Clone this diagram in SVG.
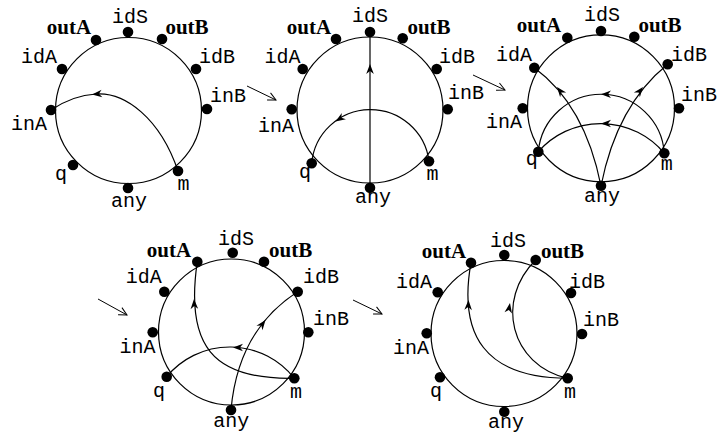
<svg xmlns="http://www.w3.org/2000/svg" width="720" height="439" viewBox="0 0 720 439">
<style>
.c{fill:none;stroke:#000;stroke-width:1.2}
.e{fill:none;stroke:#000;stroke-width:1.2}
.s{fill:none;stroke:#000;stroke-width:1}
.d{fill:#000}
.t{font-family:"Liberation Mono",monospace;font-size:20px;text-anchor:middle;fill:#000}
.b{font-family:"Liberation Serif",serif;font-size:21px;font-weight:bold;text-anchor:middle;fill:#000}
</style>
<defs>
<path id="ah" d="M0,0 L-10,-3.8 L-7,0 L-10,3.8 Z" fill="#000"/>
<marker id="open" markerWidth="12" markerHeight="12" refX="9" refY="5" orient="auto" markerUnits="userSpaceOnUse"><path d="M1,1 L9,5 L1,9" fill="none" stroke="#000" stroke-width="1"/></marker>
</defs>
<rect width="720" height="439" fill="#fff"/>

<!-- state 1 -->
<g id="state1">
<circle class="c" cx="128.5" cy="110.5" r="73"/>
<g id="s1-outA"><circle class="d" cx="96" cy="40" r="5.3"/><text class="b" x="69" y="34">outA</text></g>
<g id="s1-idS"><circle class="d" cx="128" cy="32" r="5.3"/><text class="t" x="130" y="23">idS</text></g>
<g id="s1-outB"><circle class="d" cx="162" cy="39" r="5.3"/><text class="b" x="187" y="34">outB</text></g>
<g id="s1-idA"><circle class="d" cx="62" cy="69" r="5.3"/><text class="t" x="39" y="63">idA</text></g>
<g id="s1-idB"><circle class="d" cx="196" cy="69" r="5.3"/><text class="t" x="217" y="63">idB</text></g>
<g id="s1-inA"><circle class="d" cx="51" cy="110" r="5.3"/><text class="t" x="29" y="130">inA</text></g>
<g id="s1-inB"><circle class="d" cx="207" cy="109" r="5.3"/><text class="t" x="228" y="102">inB</text></g>
<g id="s1-q"><circle class="d" cx="73" cy="165" r="5.3"/><text class="t" x="61" y="180">q</text></g>
<g id="s1-m"><circle class="d" cx="178" cy="171" r="5.3"/><text class="t" x="183.5" y="190">m</text></g>
<g id="s1-any"><circle class="d" cx="128" cy="188" r="5.3"/><text class="t" x="129" y="207">any</text></g>
</g>

<!-- state 2 -->
<g id="state2">
<circle class="c" cx="370" cy="110" r="73"/>
<g id="s2-outA"><circle class="d" cx="336" cy="39" r="5.3"/><text class="b" x="309" y="34">outA</text></g>
<g id="s2-idS"><circle class="d" cx="370" cy="32" r="5.3"/><text class="t" x="370" y="21.7">idS</text></g>
<g id="s2-outB"><circle class="d" cx="402.7" cy="38.3" r="5.3"/><text class="b" x="429" y="34">outB</text></g>
<g id="s2-idA"><circle class="d" cx="302.7" cy="69" r="5.3"/><text class="t" x="282.5" y="63">idA</text></g>
<g id="s2-idB"><circle class="d" cx="436.7" cy="69" r="5.3"/><text class="t" x="457" y="63">idB</text></g>
<g id="s2-inA"><circle class="d" cx="291.7" cy="109.3" r="5.3"/><text class="t" x="276" y="131.7">inA</text></g>
<g id="s2-inB"><circle class="d" cx="447.7" cy="109.3" r="5.3"/><text class="t" x="466" y="99.3">inB</text></g>
<g id="s2-q"><circle class="d" cx="311.7" cy="163.3" r="5.3"/><text class="t" x="305" y="178">q</text></g>
<g id="s2-m"><circle class="d" cx="429" cy="161.3" r="5.3"/><text class="t" x="432.5" y="180">m</text></g>
<g id="s2-any"><circle class="d" cx="370" cy="187.7" r="5.3"/><text class="t" x="373" y="203">any</text></g>
</g>

<!-- state 3 -->
<g id="state3">
<circle class="c" cx="601" cy="108.3" r="73.5"/>
<g id="s3-outA"><circle class="d" cx="567.3" cy="37.7" r="5.3"/><text class="b" x="539" y="32.3">outA</text></g>
<g id="s3-idS"><circle class="d" cx="601" cy="31" r="5.3"/><text class="t" x="602" y="21">idS</text></g>
<g id="s3-outB"><circle class="d" cx="634.3" cy="36.7" r="5.3"/><text class="b" x="660" y="32.3">outB</text></g>
<g id="s3-idA"><circle class="d" cx="534.3" cy="67.7" r="5.3"/><text class="t" x="514" y="61">idA</text></g>
<g id="s3-idB"><circle class="d" cx="667.7" cy="64.3" r="5.3"/><text class="t" x="689" y="61">idB</text></g>
<g id="s3-inA"><circle class="d" cx="522.7" cy="108.3" r="5.3"/><text class="t" x="504" y="128.3">inA</text></g>
<g id="s3-inB"><circle class="d" cx="679" cy="108.3" r="5.3"/><text class="t" x="699" y="101">inB</text></g>
<g id="s3-q"><circle class="d" cx="538.3" cy="151.7" r="5.3"/><text class="t" x="531.7" y="165">q</text></g>
<g id="s3-m"><circle class="d" cx="664.3" cy="153.3" r="5.3"/><text class="t" x="666.7" y="170">m</text></g>
<g id="s3-any"><circle class="d" cx="601" cy="185.7" r="5.3"/><text class="t" x="602" y="201.7">any</text></g>
</g>

<!-- state 4 -->
<g id="state4">
<circle class="c" cx="231.5" cy="332" r="73"/>
<g id="s4-outA"><circle class="d" cx="197.3" cy="261.7" r="5.3"/><text class="b" x="169" y="256.7">outA</text></g>
<g id="s4-idS"><circle class="d" cx="232.7" cy="252.7" r="5.3"/><text class="t" x="236" y="245">idS</text></g>
<g id="s4-outB"><circle class="d" cx="264" cy="261.7" r="5.3"/><text class="b" x="290.7" y="256.7">outB</text></g>
<g id="s4-idA"><circle class="d" cx="164.3" cy="291.7" r="5.3"/><text class="t" x="143.7" y="282.7">idA</text></g>
<g id="s4-idB"><circle class="d" cx="297.7" cy="291.7" r="5.3"/><text class="t" x="321" y="282.7">idB</text></g>
<g id="s4-inA"><circle class="d" cx="152.7" cy="332.3" r="5.3"/><text class="t" x="137.5" y="353.3">inA</text></g>
<g id="s4-inB"><circle class="d" cx="308.3" cy="332.3" r="5.3"/><text class="t" x="331" y="325">inB</text></g>
<g id="s4-q"><circle class="d" cx="166.7" cy="376.7" r="5.3"/><text class="t" x="159" y="396.7">q</text></g>
<g id="s4-m"><circle class="d" cx="294.3" cy="378.3" r="5.3"/><text class="t" x="296" y="397.7">m</text></g>
<g id="s4-any"><circle class="d" cx="231" cy="410" r="5.3"/><text class="t" x="231.3" y="426.7">any</text></g>
</g>

<!-- state 5 -->
<g id="state5">
<circle class="c" cx="504" cy="333.5" r="73"/>
<g id="s5-outA"><circle class="d" cx="471" cy="262.7" r="5.3"/><text class="b" x="444" y="257.7">outA</text></g>
<g id="s5-idS"><circle class="d" cx="504.3" cy="255" r="5.3"/><text class="t" x="508" y="246.7">idS</text></g>
<g id="s5-outB"><circle class="d" cx="535.7" cy="260" r="5.3"/><text class="b" x="562.5" y="257.7">outB</text></g>
<g id="s5-idA"><circle class="d" cx="437.7" cy="292.3" r="5.3"/><text class="t" x="414" y="287.7">idA</text></g>
<g id="s5-idB"><circle class="d" cx="571" cy="293" r="5.3"/><text class="t" x="587" y="287.7">idB</text></g>
<g id="s5-inA"><circle class="d" cx="426.7" cy="333.3" r="5.3"/><text class="t" x="411" y="354.3">inA</text></g>
<g id="s5-inB"><circle class="d" cx="582" cy="334" r="5.3"/><text class="t" x="601" y="326">inB</text></g>
<g id="s5-q"><circle class="d" cx="440" cy="377.3" r="5.3"/><text class="t" x="436" y="396.7">q</text></g>
<g id="s5-m"><circle class="d" cx="567.7" cy="378.3" r="5.3"/><text class="t" x="570" y="397.7">m</text></g>
<g id="s5-any"><circle class="d" cx="504.3" cy="411.7" r="5.3"/><text class="t" x="506" y="428.3">any</text></g>
</g>

<g id="connectors">
<!-- state 1 -->
<path class="e" d="M178,171 C160,118 125,92 96,94 C78,95 63,102 51,110"/>
<use href="#ah" transform="translate(92,94.6) rotate(174)"/>
<!-- state 2 -->
<path class="e" d="M370,188 L370,32"/>
<use href="#ah" transform="translate(370,64) rotate(-90)"/>
<path class="e" d="M429,161.3 A59,59 0 0 0 311.7,163.3"/>
<use href="#ah" transform="translate(335.5,121.6) rotate(146.7)"/>
<!-- state 3 -->
<path class="e" d="M664.3,153.3 A63.2,63.2 0 0 0 538.3,151.7"/>
<use href="#ah" transform="translate(601,94.3) rotate(180)"/>
<path class="e" d="M664.3,153.3 A83,83 0 0 0 538.3,151.7"/>
<use href="#ah" transform="translate(601,123.5) rotate(180)"/>
<path class="e" d="M601,186 Q585,105 534.3,67.7"/>
<use href="#ah" transform="translate(557,87) rotate(-128)"/>
<path class="e" d="M601,186 Q617,105 667.7,64.3"/>
<use href="#ah" transform="translate(643,87) rotate(-52)"/>
<!-- state 4 -->
<path class="e" d="M294.3,378.3 C212,380 185,345 197.3,261.7"/>
<use href="#ah" transform="translate(194,299) rotate(-92)"/>
<path class="e" d="M231,410 Q238,330 297.7,291.7"/>
<use href="#ah" transform="translate(265.5,320) rotate(-53)"/>
<path class="e" d="M294.3,378.3 A82,82 0 0 0 166.7,376.7"/>
<use href="#ah" transform="translate(233,347.5) rotate(180)"/>
<!-- state 5 -->
<path class="e" d="M567.7,378.3 C485,378 458,335 471,262.7"/>
<use href="#ah" transform="translate(468.5,300) rotate(-88)"/>
<path class="e" d="M567.7,378.3 C510,365 495,300 535.7,260"/>
<use href="#ah" transform="translate(510,303) rotate(-80)"/>
<!-- transitions between states -->
<path class="s" d="M247,86 L276,100" marker-end="url(#open)"/>
<path class="s" d="M473,75 L505,90" marker-end="url(#open)"/>
<path class="s" d="M98,299 L127,315" marker-end="url(#open)"/>
<path class="s" d="M353,300 L382,314" marker-end="url(#open)"/>
</g>
</svg>
